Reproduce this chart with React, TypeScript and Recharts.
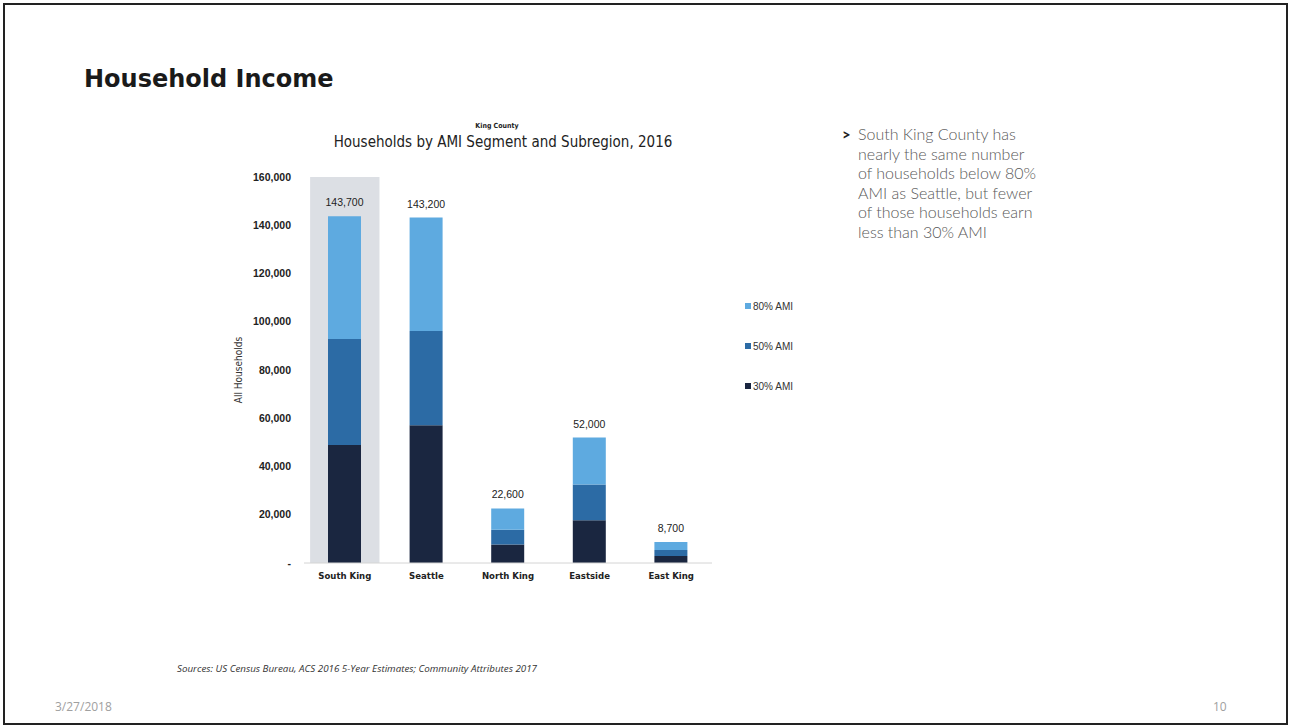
import React from 'react';
import { BarChart, Bar, XAxis, YAxis, LabelList, ReferenceArea } from 'recharts';

const categories = ['South King', 'Seattle', 'North King', 'Eastside', 'East King'];
const ami30 = [48900, 57100, 7700, 17700, 2900];
const ami50 = [44000, 39100, 6100, 14800, 2500];
const ami80 = [50800, 47000, 8800, 19500, 3300];
const totals = [143700, 143200, 22600, 52000, 8700];
const yTicks = [0, 20000, 40000, 60000, 80000, 100000, 120000, 140000, 160000];

const seriesNames = ['30% AMI', '50% AMI', '80% AMI'];
const seriesKeys = ['ami30', 'ami50', 'ami80'];
const seriesColors = ['#1a2640', '#2c6ba5', '#5eaae0'];

const bulletLines = [
  'South King County has',
  'nearly the same number',
  'of households below 80%',
  'AMI as Seattle, but fewer',
  'of those households earn',
  'less than 30% AMI',
];

const data = categories.map((c, i) => ({
  name: c,
  ami30: ami30[i],
  ami50: ami50[i],
  ami80: ami80[i],
  total: totals[i],
}));

const narrow = "'DejaVu Sans Condensed', 'Liberation Sans Narrow', sans-serif";
const arial = "'Liberation Sans', Arial, sans-serif";

const fmt = (v: number) => (v === 0 ? '-' : v.toLocaleString('en-US'));

export default function App() {
  return (
    <div style={{ position: 'absolute', left: 0, top: 0, width: 1291, height: 727, background: '#fff', overflow: 'hidden' }}>
      <svg width={1291} height={727} style={{ position: 'absolute', left: 0, top: 0 }}>
        <rect x={4} y={4} width={1283} height={720} fill="none" stroke="#222" strokeWidth={2} />
        <text x={84} y={87} fontFamily="'DejaVu Sans', Verdana, sans-serif" fontWeight="bold" fontSize={24} fill="#1a1a1a">
          Household Income
        </text>
        <text x={497} y={128} textAnchor="middle" fontFamily={narrow} fontWeight="bold" fontSize={7} fill="#222">
          King County
        </text>
        <text x={503} y={147} textAnchor="middle" fontFamily={narrow} fontSize={15} fill="#222">
          Households by AMI Segment and Subregion, 2016
        </text>
        {[2, 1, 0].map((si, k) => (
          <g key={si}>
            <rect x={745} y={303 + k * 40} width={6} height={6} fill={seriesColors[si]} />
            <text x={753} y={310 + k * 40} fontFamily={arial} fontSize={10} fill="#333">
              {seriesNames[si]}
            </text>
          </g>
        ))}
        <text x={842} y={140} fontFamily="Lato, 'Open Sans', sans-serif" fontWeight="bold" fontSize={15} fill="#222">
          &gt;
        </text>
        {bulletLines.map((l, i) => (
          <text key={i} x={858} y={140 + i * 19.6} fontFamily="Lato, 'Open Sans', sans-serif" fontWeight={300} fontSize={16} fill="#595959">
            {l}
          </text>
        ))}
        <text x={177} y={672} fontFamily="'Open Sans', sans-serif" fontStyle="italic" fontSize={8.5} fill="#333" textLength={360} lengthAdjust="spacingAndGlyphs">
          Sources: US Census Bureau, ACS 2016 5-Year Estimates; Community Attributes 2017
        </text>
        <text x={55} y={711} fontFamily="'Open Sans', sans-serif" fontSize={12} fill="#a0a0a0">
          3/27/2018
        </text>
        <text x={1213} y={711} fontFamily="'Open Sans', sans-serif" fontSize={12} fill="#a0a0a0">
          10
        </text>
      </svg>
      <div style={{ position: 'absolute', left: 200, top: 160 }}>
        <BarChart width={560} height={440} data={data} margin={{ top: 17, right: 48, bottom: 7, left: 0 }}>
          <ReferenceArea
            x1="South King"
            x2="South King"
            y1={0}
            y2={160000}
            fill="#dcdfe4"
            fillOpacity={1}
            stroke="none"
            shape={(p: any) => (
              <rect x={p.x + p.width * 0.075} y={p.y} width={p.width * 0.85} height={p.height} fill="#dcdfe4" />
            )}
          />
          <XAxis
            dataKey="name"
            height={30}
            tickLine={false}
            tickSize={6}
            tickMargin={3}
            axisLine={{ stroke: '#d4d4d4' }}
            tick={{ fontFamily: narrow, fontWeight: 'bold', fontSize: 9.5, fill: '#222' }}
            interval={0}
          />
          <YAxis
            width={104}
            domain={[0, 160000]}
            ticks={yTicks}
            tickFormatter={fmt}
            axisLine={false}
            tickLine={false}
            tickSize={0}
            tickMargin={13}
            tick={{ fontFamily: arial, fontWeight: 'bold', fontSize: 10.5, fill: '#222' }}
            label={{ value: 'All Households', angle: -90, position: 'center', dx: -14, style: { fontFamily: narrow, fontSize: 10, fill: '#333' } }}
          />
          {seriesKeys.map((k, i) => (
            <Bar key={k} dataKey={k} name={seriesNames[i]} stackId="a" fill={seriesColors[i]} barSize={33} isAnimationActive={false}>
              {i === 2 ? (
                <LabelList
                  dataKey="total"
                  position="top"
                  offset={10}
                  formatter={(v: any) => Number(v).toLocaleString('en-US')}
                  style={{ fontFamily: arial, fontSize: 10.5, fill: '#222' }}
                />
              ) : null}
            </Bar>
          ))}
        </BarChart>
      </div>
    </div>
  );
}
